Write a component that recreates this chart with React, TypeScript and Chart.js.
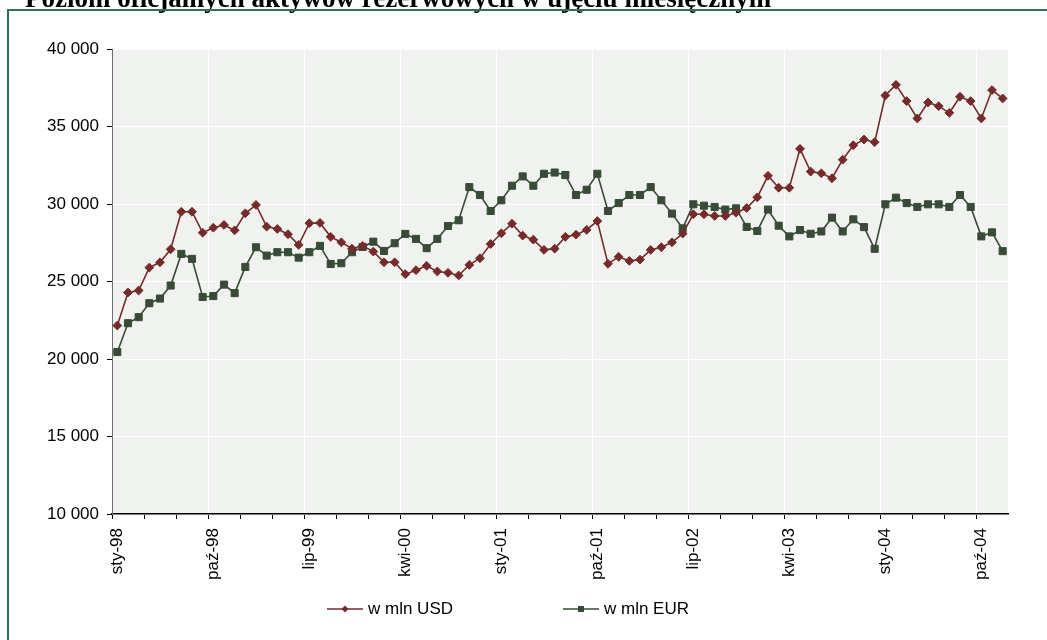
import React, { useEffect, useRef } from 'react';
import { Chart, registerables } from 'chart.js';

Chart.register(...registerables);

const monthNames = ['sty', 'lut', 'mar', 'kwi', 'maj', 'cze', 'lip', 'sie', 'wrz', 'paź', 'lis', 'gru'];
const years = ['98', '99', '00', '01', '02', '03', '04'];
const categories = years.flatMap((y) => monthNames.map((m) => `${m}-${y}`));

const seriesNames = ['w mln USD', 'w mln EUR'];
const seriesColors = ['#762B2B', '#384B36'];

const usd = [
  22160, 24290, 24420, 25900, 26240, 27080, 29500, 29500, 28150, 28470, 28650, 28300,
  29400, 29940, 28540, 28390, 28050, 27360, 28760, 28780, 27880, 27530, 27120, 27300,
  26930, 26240, 26240, 25470, 25730, 26010, 25650, 25560, 25390, 26070, 26500, 27420,
  28110, 28730, 27960, 27700, 27040, 27120, 27880, 28020, 28330, 28900, 26140, 26590,
  26330, 26410, 27040, 27210, 27530, 28090, 29340, 29340, 29230, 29230, 29440, 29740,
  30430, 31820, 31050, 31050, 33560, 32090, 31980, 31660, 32860, 33790, 34160, 33990,
  37000, 37690, 36640, 35520, 36550, 36310, 35880, 36920, 36640, 35520, 37350, 36810,
];

const eur = [
  20450, 22310, 22700, 23600, 23900, 24740, 26780, 26460, 24000, 24060, 24800, 24250,
  25940, 27210, 26670, 26890, 26890, 26540, 26890, 27300, 26130, 26180, 26890, 27230,
  27570, 26970, 27470, 28070, 27750, 27150, 27750, 28580, 28950, 31090, 30580, 29550,
  30240, 31180, 31780, 31180, 31950, 32030, 31870, 30580, 30920, 31950, 29550, 30060,
  30580, 30580, 31090, 30240, 29380, 28430, 29980, 29890, 29810, 29640, 29720, 28520,
  28260, 29640, 28600, 27910, 28320, 28080, 28230, 29120, 28230, 29010, 28510, 27110,
  29980, 30410, 30060, 29810, 29980, 29980, 29810, 30580, 29810, 27910, 28170, 26960,
];

const yMin = 10000;
const yMax = 40000;
const yStep = 5000;
const tickEvery = 3;
const labelEvery = 9;

const titleText = 'Poziom oficjalnych aktywów rezerwowych w ujęciu miesięcznym';

const FONT = '"Liberation Sans", Arial, sans-serif';
const FONT_SIZE = 17;

const formatThousands = (v: number) =>
  String(Math.round(v)).replace(/\B(?=(\d{3})+(?!\d))/g, ' ');

const decorPlugin = {
  id: 'decor',
  beforeDraw(chart: any) {
    const { ctx, chartArea } = chart;
    ctx.save();
    ctx.fillStyle = '#ffffff';
    ctx.fillRect(0, 0, chart.width, chart.height);
    ctx.fillStyle = '#F0F2EF';
    ctx.fillRect(chartArea.left, chartArea.top, chartArea.right - chartArea.left, chartArea.bottom - chartArea.top);
    ctx.restore();
  },
  afterDraw(chart: any) {
    const { ctx } = chart;
    ctx.save();
    // title (partly cut off at the top)
    ctx.fillStyle = '#000';
    ctx.font = 'bold 27px "Liberation Serif", "Times New Roman", serif';
    ctx.textAlign = 'left';
    ctx.textBaseline = 'alphabetic';
    ctx.fillText(titleText, 25, 7);
    // frame
    ctx.strokeStyle = '#2F725C';
    ctx.lineWidth = 2;
    ctx.strokeRect(8, 10, chart.width + 20, chart.height + 20);

    // legend
    const legendY = 609;
    const starts = [327, 563];
    chart.data.datasets.forEach((ds: any, i: number) => {
      const x0 = starts[i];
      ctx.strokeStyle = ds.borderColor;
      ctx.lineWidth = 1.5;
      ctx.beginPath();
      ctx.moveTo(x0, legendY);
      ctx.lineTo(x0 + 36, legendY);
      ctx.stroke();
      ctx.fillStyle = ds.backgroundColor;
      const cx = x0 + 18;
      if (ds.pointStyle === 'rectRot') {
        ctx.beginPath();
        ctx.moveTo(cx, legendY - 3.5);
        ctx.lineTo(cx + 3.5, legendY);
        ctx.lineTo(cx, legendY + 3.5);
        ctx.lineTo(cx - 3.5, legendY);
        ctx.closePath();
        ctx.fill();
      } else {
        ctx.fillRect(cx - 3, legendY - 3, 6, 6);
      }
      ctx.fillStyle = '#000';
      ctx.font = `${FONT_SIZE}px ${FONT}`;
      ctx.textBaseline = 'middle';
      ctx.fillText(ds.label, x0 + 41, legendY);
    });
    ctx.restore();
  },
};

export default function App() {
  const canvasRef = useRef<HTMLCanvasElement | null>(null);

  useEffect(() => {
    if (!canvasRef.current) return;
    const chart = new Chart(canvasRef.current, {
      type: 'line',
      data: {
        labels: categories,
        datasets: [
          {
            label: seriesNames[0],
            data: usd,
            borderColor: seriesColors[0],
            backgroundColor: seriesColors[0],
            borderWidth: 1.6,
            pointStyle: 'rectRot',
            pointRadius: 4.4,
            pointBorderWidth: 1,
            pointBorderColor: seriesColors[0],
            pointBackgroundColor: seriesColors[0],
            tension: 0,
            fill: false,
          },
          {
            label: seriesNames[1],
            data: eur,
            borderColor: seriesColors[1],
            backgroundColor: seriesColors[1],
            borderWidth: 1.6,
            pointStyle: 'rect',
            pointRadius: 5,
            pointBorderWidth: 1,
            pointBorderColor: seriesColors[1],
            pointBackgroundColor: seriesColors[1],
            tension: 0,
            fill: false,
          },
        ],
      },
      options: {
        responsive: false,
        animation: false,
        events: [],
        layout: { padding: { top: 49, right: 39, left: 0, bottom: 0 } },
        plugins: {
          legend: { display: false },
          title: { display: false },
          tooltip: { enabled: false },
        },
        scales: {
          x: {
            type: 'category',
            offset: true,
            grid: {
              offset: true,
              drawOnChartArea: true,
              drawTicks: true,
              tickLength: 5,
              lineWidth: 1,
              color: (ctx: any) => (ctx.index > 0 && ctx.index % labelEvery === 0 ? '#ffffff' : 'rgba(0,0,0,0)'),
              tickColor: (ctx: any) => (ctx.index % tickEvery === 0 ? '#000000' : 'rgba(0,0,0,0)'),
            },
            border: { display: true, color: '#000000', width: 1.5 },
            ticks: {
              autoSkip: false,
              maxRotation: 90,
              minRotation: 90,
              padding: 9,
              color: '#000',
              font: { family: FONT, size: FONT_SIZE },
              callback: function (this: any, val: any, i: number) {
                return i % labelEvery === 0 ? this.getLabelForValue(val) : '';
              },
            },
            afterFit: (scale: any) => {
              scale.height = 126;
            },
          },
          y: {
            type: 'linear',
            min: yMin,
            max: yMax,
            grid: {
              color: '#ffffff',
              lineWidth: 1,
              tickLength: 5,
              tickColor: '#000000',
            },
            border: { display: true, color: '#6E6E6E', width: 1 },
            ticks: {
              stepSize: yStep,
              padding: 8,
              color: '#000',
              font: { family: FONT, size: FONT_SIZE },
              callback: (v: any) => formatThousands(Number(v)),
            },
            afterFit: (scale: any) => {
              scale.width = 112;
            },
          },
        },
      },
      plugins: [decorPlugin],
    });
    return () => chart.destroy();
  }, []);

  return (
    <div style={{ position: 'fixed', left: 0, top: 0, width: 1047, height: 640, background: '#fff' }}>
      <canvas ref={canvasRef} width={1047} height={640} style={{ display: 'block' }} />
    </div>
  );
}
